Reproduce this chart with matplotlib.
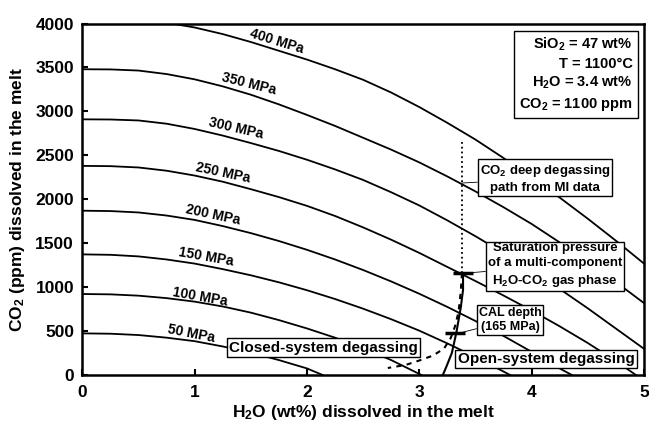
import matplotlib
matplotlib.use('Agg')
import matplotlib.pyplot as plt

plt.rcParams['font.family'] = ['Liberation Sans', 'DejaVu Sans']
plt.rcParams['font.weight'] = 'bold'
plt.rcParams['mathtext.fontset'] = 'custom'
plt.rcParams['mathtext.rm'] = 'Liberation Sans:bold'
plt.rcParams['mathtext.bf'] = 'Liberation Sans:bold'
plt.rcParams['mathtext.default'] = 'rm'

# isobars: H2O (wt%) vs CO2 (ppm)
grid = [0, 0.25, 0.5, 0.75, 1, 1.25, 1.5, 1.75, 2, 2.25, 2.5, 2.75, 3,
        3.25, 3.5, 3.75, 4, 4.25, 4.5, 4.75, 5]
p400 = [4060, 4058, 4045, 4010, 3955, 3880, 3790, 3690, 3590, 3480, 3360,
        3215, 3050, 2870, 2680, 2470, 2250, 2020, 1780, 1530, 1270]
p350 = [3480, 3478, 3465, 3425, 3365, 3285, 3190, 3080, 2960, 2835, 2700,
        2565, 2420, 2260, 2090, 1910, 1720, 1510, 1290, 1060, 820]
p300 = [2910, 2908, 2897, 2860, 2800, 2725, 2640, 2550, 2450, 2340, 2220,
        2080, 1930, 1760, 1580, 1390, 1190, 980, 760, 530, 300]
p250_x = grid[:20] + [4.93]
p250 = [2380, 2377, 2362, 2325, 2270, 2200, 2115, 2025, 1925, 1810, 1680,
        1540, 1390, 1230, 1070, 905, 735, 555, 365, 160, 0]
p200_x = grid[:18] + [4.36]
p200 = [1870, 1866, 1850, 1815, 1765, 1695, 1615, 1525, 1425, 1315, 1195,
        1065, 925, 775, 615, 445, 265, 75, 0]
p150_x = grid[:16] + [3.81]
p150 = [1373, 1368, 1350, 1315, 1268, 1205, 1135, 1055, 965, 865, 755,
        635, 505, 360, 205, 40, 0]
p100_x = grid[:12] + [3.02]
p100 = [922, 918, 903, 875, 835, 780, 710, 625, 530, 425, 305, 170, 0]
p50_x = grid[:9] + [2.14]
p50 = [474, 470, 455, 425, 385, 325, 255, 170, 75, 0]

isobars = [(grid, p400), (grid, p350), (grid, p300), (p250_x, p250),
           (p200_x, p200), (p150_x, p150), (p100_x, p100), (p50_x, p50)]

iso_labels = ['400 MPa', '350 MPa', '300 MPa', '250 MPa',
              '200 MPa', '150 MPa', '100 MPa', '50 MPa']
lab_x = [1.73, 1.48, 1.37, 1.25, 1.16, 1.10, 1.05, 0.97]
lab_y = [3800, 3311, 2811, 2298, 1820, 1343, 888, 467]
lab_rot = [-17, -14, -13, -12, -12, -10, -10, -11]

# degassing paths
open_x = [3.39, 3.39, 3.37, 3.33, 3.29, 3.24, 3.21]
open_y = [1160, 970, 770, 480, 250, 90, 0]
closed_x = [3.38, 3.37, 3.35, 3.32, 3.28, 3.22, 3.12, 3.0, 2.88, 2.72]
closed_y = [1160, 950, 720, 560, 420, 300, 220, 165, 115, 80]
mi_x = [3.38, 3.38]
mi_y = [2650, 1160]

sat_pt = (3.39, 1160)
cal_pt = (3.32, 478)

fig = plt.figure(figsize=(6.49, 4.25), dpi=100)
ax = fig.add_axes([0.127, 0.1176, 0.865, 0.827])

for xs, ys in isobars:
    ax.plot(xs, ys, color='black', lw=1.3)

for t, x, y, r in zip(iso_labels, lab_x, lab_y, lab_rot):
    ax.text(x, y, t, rotation=r, ha='center', va='center', fontsize=10,
            fontweight='bold', rotation_mode='anchor')

ax.plot(mi_x, mi_y, color='black', lw=1.3, ls=':')
ax.plot(open_x, open_y, color='black', lw=1.5)
ax.plot(closed_x, closed_y, color='black', lw=1.5, ls=(0, (2.5, 2.5)))
ax.plot(*sat_pt, marker='_', ms=14, mew=2.5, color='black')
ax.plot(*cal_pt, marker='_', ms=14, mew=2.5, color='black')

box = dict(boxstyle='square,pad=0.15', fc='white', ec='black', lw=1)
leader = dict(arrowstyle='-', lw=0.6, color='black', shrinkA=0, shrinkB=0)

ax.annotate('CO$_2$ deep degassing\npath from MI data', xy=(3.38, 2185),
            xytext=(4.12, 2236), ha='center', va='center', fontsize=9.5,
            bbox=box, arrowprops=leader, linespacing=1.3)
ax.annotate('Saturation pressure\nof a multi-component\nH$_2$O-CO$_2$ gas phase',
            xy=(3.42, 1160), xytext=(4.21, 1246), ha='center', va='center',
            fontsize=9.5, bbox=box, arrowprops=leader, linespacing=1.35)
ax.annotate('CAL depth\n(165 MPa)', xy=(3.36, 478), xytext=(3.81, 626),
            ha='center', va='center', fontsize=9, bbox=box,
            arrowprops=leader, linespacing=1.2)

ax.text(2.15, 313, 'Closed-system degassing', ha='center', va='center',
        fontsize=11, bbox=box)
ax.text(4.13, 182, 'Open-system degassing', ha='center', va='center',
        fontsize=11, bbox=box)

ax.text(4.9, 3425, 'SiO$_2$ = 47 wt%\nT = 1100°C\nH$_2$O = 3.4 wt%\nCO$_2$ = 1100 ppm',
        ha='right', va='center', fontsize=10.5, linespacing=1.35,
        bbox=dict(boxstyle='square,pad=0.35', fc='white', ec='black', lw=1))

ax.set_xlim(0, 5)
ax.set_ylim(0, 4000)
ax.set_xticks([0, 1, 2, 3, 4, 5])
ax.set_yticks(range(0, 4001, 500))
ax.tick_params(direction='in', length=4, width=1.5, labelsize=12.5)
ax.tick_params(axis='x', pad=7)
ax.tick_params(axis='y', pad=6)
for lab in ax.get_xticklabels() + ax.get_yticklabels():
    lab.set_fontweight('bold')
for s in ax.spines.values():
    s.set_linewidth(1.8)

ax.set_xlabel('H$_2$O (wt%) dissolved in the melt', fontsize=12.5,
              fontweight='bold', labelpad=2)
ax.set_ylabel('CO$_2$ (ppm) dissolved in the melt', fontsize=12.5,
              fontweight='bold', labelpad=6)

fig.savefig('out.png', dpi=100)
